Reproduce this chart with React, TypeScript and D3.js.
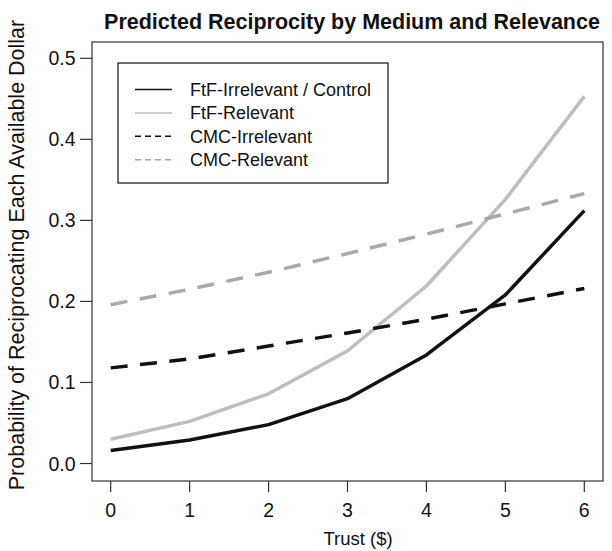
import React from 'react';
import * as d3 from 'd3';

const trust = [0, 1, 2, 3, 4, 5, 6];
const ftfIrrelevant = [0.016, 0.029, 0.048, 0.080, 0.134, 0.208, 0.312];
const ftfRelevant = [0.030, 0.052, 0.086, 0.139, 0.219, 0.326, 0.453];
const cmcIrrelevant = [0.118, 0.129, 0.145, 0.161, 0.178, 0.197, 0.216];
const cmcRelevant = [0.196, 0.215, 0.236, 0.259, 0.283, 0.308, 0.333];
const yTicks = [0, 0.1, 0.2, 0.3, 0.4, 0.5];

const series = [
  { name: 'FtF-Irrelevant / Control', values: ftfIrrelevant, color: '#111111', dash: null },
  { name: 'FtF-Relevant', values: ftfRelevant, color: '#bebebe', dash: null },
  { name: 'CMC-Irrelevant', values: cmcIrrelevant, color: '#111111', dash: '17,12.5' },
  { name: 'CMC-Relevant', values: cmcRelevant, color: '#a9a9a9', dash: '17,12.5' },
];

const font = '"Liberation Sans", Arial, Helvetica, sans-serif';

export default function App() {
  const W = 612;
  const H = 551;
  // plot box
  const box = { left: 92, right: 603, top: 42, bottom: 481 };

  const x = d3.scaleLinear().domain([0, 6]).range([110.7, 584.3]);
  const y = d3.scaleLinear().domain([0, 0.5]).range([463.5, 58.3]);

  const line = d3
    .line<number>()
    .x((_, i) => x(trust[i]))
    .y((d) => y(d));

  const legend = { left: 118, top: 63, right: 388, bottom: 183 };
  const rowY = (i: number) => 89.5 + i * 23.4;

  return (
    <svg width={W} height={H} style={{ position: 'absolute', left: 0, top: 0, background: '#fff' }}>
      <rect width={W} height={H} fill="#fff" />
      <text
        x={352}
        y={29}
        textAnchor="middle"
        fontFamily={font}
        fontWeight="bold"
        fontSize={21.5}
        fill="#111"
      >
        Predicted Reciprocity by Medium and Relevance
      </text>

      {/* data lines */}
      {series.map((s) => (
        <path
          key={s.name}
          d={line(s.values) || ''}
          fill="none"
          stroke={s.color}
          strokeWidth={3.5}
          strokeDasharray={s.dash || undefined}
          strokeLinejoin="round"
        />
      ))}

      {/* box */}
      <rect
        x={box.left}
        y={box.top}
        width={box.right - box.left}
        height={box.bottom - box.top}
        fill="none"
        stroke="#333"
        strokeWidth={1.2}
      />

      {/* y axis */}
      {yTicks.map((t) => (
        <g key={t}>
          <line x1={box.left - 12} x2={box.left} y1={y(t)} y2={y(t)} stroke="#333" strokeWidth={1.2} />
          <text
            x={75.5}
            y={y(t)}
            dy="0.36em"
            textAnchor="end"
            fontFamily={font}
            fontSize={19.5}
            fill="#111"
          >
            {t.toFixed(1)}
          </text>
        </g>
      ))}

      {/* x axis */}
      {trust.map((t) => (
        <g key={t}>
          <line x1={x(t)} x2={x(t)} y1={box.bottom} y2={box.bottom + 11} stroke="#333" strokeWidth={1.2} />
          <text
            x={x(t)}
            y={517}
            textAnchor="middle"
            fontFamily={font}
            fontSize={19.5}
            fill="#111"
          >
            {t}
          </text>
        </g>
      ))}

      <text x={358} y={545} textAnchor="middle" fontFamily={font} fontSize={18.5} fill="#111">
        Trust ($)
      </text>
      <text
        transform={`translate(23.5, 255) rotate(-90)`}
        textAnchor="middle"
        fontFamily={font}
        fontSize={21.5}
        fill="#111"
      >
        Probability of Reciprocating Each Available Dollar
      </text>

      {/* legend */}
      <rect
        x={legend.left}
        y={legend.top}
        width={legend.right - legend.left}
        height={legend.bottom - legend.top}
        fill="#fff"
        stroke="#111"
        strokeWidth={1.2}
      />
      {series.map((s, i) => (
        <g key={s.name}>
          <line
            x1={135}
            x2={172}
            y1={rowY(i)}
            y2={rowY(i)}
            stroke={s.color}
            strokeWidth={1.5}
            strokeDasharray={s.dash ? '6,4' : undefined}
          />
          <text x={190} y={rowY(i)} dy="0.36em" fontFamily={font} fontSize={18} fill="#111">
            {s.name}
          </text>
        </g>
      ))}
    </svg>
  );
}
